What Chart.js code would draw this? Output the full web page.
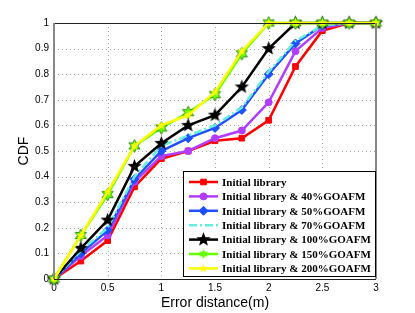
<!DOCTYPE html>
<html>
<head>
<meta charset="utf-8">
<script src="https://cdn.jsdelivr.net/npm/chart.js@4/dist/chart.umd.min.js"></script>
<style>
  html, body { margin: 0; padding: 0; background: #fff; }
  #wrap { width: 415px; height: 313px; }
</style>
</head>
<body>
<div id="wrap"><canvas id="mycanvas" width="415" height="313"></canvas></div>
<script>
// error distance (m)
var distances = [0, 0.25, 0.5, 0.75, 1, 1.25, 1.5, 1.75, 2, 2.25, 2.5, 2.75, 3];

var labels = [
	"Initial library",
	"Initial library & 40%GOAFM",
	"Initial library & 50%GOAFM",
	"Initial library & 70%GOAFM",
	"Initial library & 100%GOAFM",
	"Initial library & 150%GOAFM",
	"Initial library & 200%GOAFM"
];

var cdfInitial = [0, 0.07, 0.15, 0.36, 0.47, 0.50, 0.54, 0.55, 0.62, 0.83, 0.97, 1, 1];
var cdf40  = [0, 0.09, 0.17, 0.38, 0.48, 0.50, 0.55, 0.58, 0.69, 0.89, 0.98, 1, 1];
var cdf50  = [0, 0.10, 0.19, 0.39, 0.50, 0.55, 0.59, 0.66, 0.80, 0.92, 0.99, 1, 1];
var cdf70  = [0, 0.11, 0.20, 0.40, 0.52, 0.56, 0.60, 0.67, 0.81, 0.93, 0.99, 1, 1];
var cdf100 = [0, 0.12, 0.23, 0.44, 0.53, 0.60, 0.64, 0.75, 0.90, 1, 1, 1, 1];
var cdf150 = [0, 0.17, 0.33, 0.52, 0.59, 0.65, 0.72, 0.88, 1, 1, 1, 1, 1];
var cdf200 = [0, 0.17, 0.34, 0.52, 0.60, 0.64, 0.73, 0.89, 1, 1, 1, 1, 1];

var xTicks = [0, 0.5, 1, 1.5, 2, 2.5, 3];
var yTicks = [0, 0.1, 0.2, 0.3, 0.4, 0.5, 0.6, 0.7, 0.8, 0.9, 1];

function pts(arr) {
	var out = [];
	for (var i in arr) {
		out.push({x: distances[i], y: arr[i]});
	}
	return out;
}

// star shaped markers drawn on a small canvas
function starMarker(n, outer, inner, fill, stroke) {
	var c = document.createElement("canvas");
	var s = Math.ceil(outer * 2 + 4);
	c.width = s; c.height = s;
	var g = c.getContext("2d");
	g.translate(s / 2, s / 2);
	g.beginPath();
	for (var k = 0; k < n * 2; k++) {
		var r = (k % 2 == 0) ? outer : inner;
		var a = -Math.PI / 2 + k * Math.PI / n;
		if (k == 0) g.moveTo(r * Math.cos(a), r * Math.sin(a));
		else g.lineTo(r * Math.cos(a), r * Math.sin(a));
	}
	g.closePath();
	g.fillStyle = fill;
	g.fill();
	if (stroke) {
		g.lineWidth = 1;
		g.strokeStyle = stroke;
		g.stroke();
	}
	return c;
}

var blackStar = starMarker(5, 7.5, 3.2, "#000", null);
var greenStar = starMarker(6, 6.5, 3.4, "#66ff00", "#3a8a20");
var yellowStar = starMarker(5, 4.5, 2, "#ffff00", null);
var greenSmall = starMarker(6, 5, 2.6, "#66ff00", null);

var colors = ["#ff0000", "#b23cff", "#1f4fff", "#66eedd", "#000000", "#66ff00", "#ffff00"];
var series = [cdfInitial, cdf40, cdf50, cdf70, cdf100, cdf150, cdf200];
var styles = ["rect", "circle", "rectRot", false, blackStar, greenStar, yellowStar];
var legendStyles = ["rect", "circle", "rectRot", false, blackStar, greenSmall, yellowStar];
var radii = [4, 3.5, 4.5, 0, 7, 6, 4];
var dashes = [[], [], [], [8, 3, 2, 3], [], [], []];

var datasets = [];
for (var i = 0; i < series.length; i++) {
	datasets.push({
		label: labels[i],
		data: pts(series[i]),
		borderColor: colors[i],
		backgroundColor: colors[i],
		borderWidth: 2.5,
		borderDash: dashes[i],
		pointStyle: styles[i],
		pointRadius: radii[i],
		pointBorderWidth: 1,
		pointBorderColor: colors[i],
		pointBackgroundColor: colors[i],
		order: series.length - i,
		tension: 0
	});
}

// dotted grid through the scales
var dotGrid = {
	id: "dotGrid",
	beforeDatasetsDraw: function(chart) {
		var ctx = chart.ctx;
		var a = chart.chartArea;
		var xs = chart.scales.x, ys = chart.scales.y;
		ctx.save();
		ctx.strokeStyle = "#a8a8a8";
		ctx.lineWidth = 1;
		ctx.setLineDash([1, 3]);
		ctx.beginPath();
		for (var i in xTicks) {
			var px = Math.round(xs.getPixelForValue(xTicks[i])) + 0.5;
			ctx.moveTo(px, a.top); ctx.lineTo(px, a.bottom);
		}
		for (var j in yTicks) {
			var py = Math.round(ys.getPixelForValue(yTicks[j])) + 0.5;
			ctx.moveTo(a.left, py); ctx.lineTo(a.right, py);
		}
		ctx.stroke();
		ctx.restore();
	}
};

// legend box in the lower right corner of the plot
var boxLegend = {
	id: "boxLegend",
	afterDraw: function(chart) {
		var ctx = chart.ctx;
		var area = chart.chartArea;
		var w = 193, h = 106;
		var left = area.right - w, top = area.bottom - 2 - h;
		ctx.save();
		ctx.fillStyle = "#fff";
		ctx.fillRect(left, top, w, h);
		ctx.strokeStyle = "#000";
		ctx.lineWidth = 1;
		ctx.strokeRect(left + 0.5, top + 0.5, w - 1, h - 1);
		ctx.font = "bold 11px 'Liberation Serif', 'DejaVu Serif', serif";
		ctx.textBaseline = "middle";
		for (var i = 0; i < datasets.length; i++) {
			var d = datasets[i];
			var y = top + 11 + i * 14.4;
			ctx.beginPath();
			ctx.setLineDash(d.borderDash);
			ctx.strokeStyle = d.borderColor;
			ctx.lineWidth = 2.5;
			ctx.moveTo(left + 6, y);
			ctx.lineTo(left + 35, y);
			ctx.stroke();
			ctx.setLineDash([]);
			if (legendStyles[i]) {
				ctx.fillStyle = d.pointBackgroundColor;
				ctx.strokeStyle = d.pointBorderColor;
				ctx.lineWidth = 1;
				Chart.helpers.drawPoint(ctx, {
					pointStyle: legendStyles[i],
					radius: d.pointRadius,
					borderWidth: 1,
					rotation: 0
				}, left + 20.5, y);
			}
			ctx.fillStyle = "#000";
			ctx.fillText(d.label, left + 39, y + 1);
		}
		ctx.restore();
	}
};

// plot frame: grey left/right, black top/bottom
var frame = {
	id: "frame",
	afterDatasetsDraw: function(chart) {
		var ctx = chart.ctx;
		var a = chart.chartArea;
		ctx.save();
		ctx.lineWidth = 1;
		ctx.strokeStyle = "#222";
		ctx.beginPath();
		ctx.moveTo(a.left, a.top + 0.5); ctx.lineTo(a.right, a.top + 0.5);
		ctx.moveTo(a.left, a.bottom + 0.5); ctx.lineTo(a.right, a.bottom + 0.5);
		ctx.stroke();
		ctx.lineWidth = 2;
		ctx.strokeStyle = "#888";
		ctx.beginPath();
		ctx.moveTo(a.left, a.top); ctx.lineTo(a.left, a.bottom);
		ctx.moveTo(a.right, a.top); ctx.lineTo(a.right, a.bottom);
		ctx.stroke();
		ctx.restore();
	}
};

var tickFont = { family: "'Liberation Sans', Arial, sans-serif", size: 10 };
var titleFont = { family: "'Liberation Sans', Arial, sans-serif", size: 14 };
var hiddenGrid = { display: true, drawOnChartArea: false, drawTicks: false, color: "rgba(0,0,0,0)" };

var ctx = document.getElementById("mycanvas");
var chart = new Chart(ctx, {
	type: "line",
	data: { datasets: datasets },
	plugins: [dotGrid, frame, boxLegend],
	options: {
		responsive: false,
		animation: false,
		clip: false,
		layout: { padding: { top: 23, right: 39, left: 0, bottom: 0 } },
		plugins: { legend: { display: false }, tooltip: { enabled: false } },
		scales: {
			x: {
				type: "linear",
				min: 0, max: 3,
				afterBuildTicks: function(s) { s.ticks = xTicks.map(function(v) { return {value: v}; }); },
				afterFit: function(s) { s.height = 34; },
				ticks: { color: "#000", font: tickFont, padding: 3, maxRotation: 0,
					callback: function(v) { return String(v); } },
				grid: hiddenGrid,
				border: { display: false },
				title: { display: true, text: "Error distance(m)", color: "#000", font: titleFont, padding: { top: 0, bottom: 1 } }
			},
			y: {
				min: 0, max: 1,
				afterBuildTicks: function(s) { s.ticks = yTicks.map(function(v) { return {value: v}; }); },
				afterFit: function(s) { s.width = 54; },
				ticks: { color: "#000", font: tickFont, padding: 5,
					callback: function(v) { return String(v); } },
				grid: hiddenGrid,
				border: { display: false },
				title: { display: true, text: "CDF", color: "#000", font: titleFont, padding: { top: 16, bottom: 0 } }
			}
		}
	}
});
</script>
</body>
</html>
